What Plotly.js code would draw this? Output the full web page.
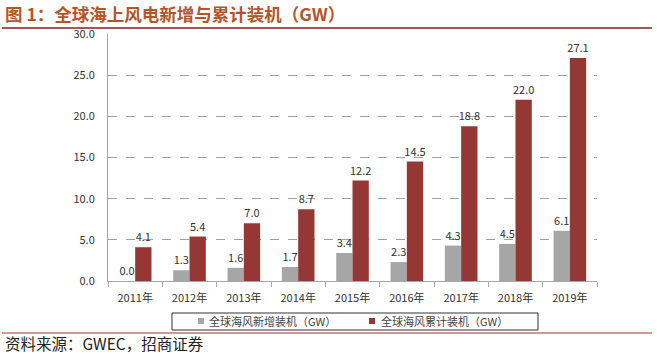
<!DOCTYPE html>
<html>
<head>
<meta charset="utf-8">
<script src="https://cdn.plot.ly/plotly-3.0.1.min.js"></script>
<style>
html,body{margin:0;padding:0;background:#fff;}
#chart{width:657px;height:354px;}
</style>
</head>
<body>
<div id="chart"></div>
<script>
const years = ["2011年","2012年","2013年","2014年","2015年","2016年","2017年","2018年","2019年"];
const newInstalled = [0.0, 1.3, 1.6, 1.7, 3.4, 2.3, 4.3, 4.5, 6.1];
const cumulative = [4.1, 5.4, 7.0, 8.7, 12.2, 14.5, 18.8, 22.0, 27.1];
const seriesNames = ["全球海风新增装机（GW）", "全球海风累计装机（GW）"];
const seriesColors = ["#A6A6A6", "#953735"];
const titleText = "图 1：全球海上风电新增与累计装机（GW）";
const sourceText = "资料来源：GWEC，招商证券";

const FONT = "Noto Sans CJK SC, Noto Sans, sans-serif";
const W = 657, H = 354, L = 108, R = 597, T = 34, B = 281;
const px = x => (x - L) / (R - L);
const py = y => (B - y) / (B - T);

const common = {
  type: "bar",
  x: years,
  texttemplate: "%{y:.1f}",
  textposition: "outside",
  constraintext: "none",
  textfont: {family: FONT, size: 11, color: "#333"},
  cliponaxis: false,
  hoverinfo: "skip",
  showlegend: false
};

const data = [
  Object.assign({}, common, {name: seriesNames[0], y: newInstalled, marker: {color: seriesColors[0]}}),
  Object.assign({}, common, {name: seriesNames[1], y: cumulative, marker: {color: seriesColors[1]}})
];

// manual legend (compact box as in reference)
const legendItems = [
  {sx: 198, tx: 207},
  {sx: 369, tx: 379}
];
const legendShapes = [
  {type: "rect", xref: "paper", yref: "paper", x0: px(172), x1: px(538), y0: py(313), y1: py(330),
   line: {color: "#333", width: 1}, fillcolor: "rgba(255,255,255,0)"}
];
const legendAnns = [];
legendItems.forEach((it, i) => {
  legendShapes.push({type: "rect", xref: "paper", yref: "paper",
    x0: px(it.sx), x1: px(it.sx + 6), y0: py(318), y1: py(324),
    line: {width: 0}, fillcolor: seriesColors[i]});
  legendAnns.push({text: seriesNames[i], xref: "paper", yref: "paper",
    x: px(it.tx), y: py(321), xanchor: "left", yanchor: "middle", showarrow: false,
    font: {family: FONT, size: 11, color: "#444"}});
});

const layout = {
  width: W, height: H,
  margin: {l: L, r: W - R, t: T, b: H - B, pad: 0},
  paper_bgcolor: "#fff", plot_bgcolor: "#fff",
  font: {family: FONT, size: 11, color: "#333"},
  barmode: "group",
  bargap: 0.4,
  bargroupgap: 0,
  showlegend: false,
  xaxis: {
    type: "category",
    showline: true, linecolor: "#A6A6A6", linewidth: 1,
    ticks: "outside", tickson: "boundaries", ticklen: 5, tickcolor: "#A6A6A6",
    ticklabelstandoff: 7,
    tickfont: {family: FONT, size: 11, color: "#333"},
    showgrid: false, fixedrange: true
  },
  yaxis: {
    range: [0, 30], dtick: 5, tickformat: ".1f",
    showline: true, linecolor: "#A6A6A6", linewidth: 1,
    ticks: "", ticklabelstandoff: 10,
    showgrid: true, gridcolor: "#A0A0A0", griddash: "dash", gridwidth: 1,
    zeroline: false,
    tickfont: {family: FONT, size: 11, color: "#333"},
    fixedrange: true
  },
  annotations: [
    {text: "<b>" + titleText + "</b>", xref: "paper", yref: "paper",
     x: px(3), y: py(14), xanchor: "left", yanchor: "middle", showarrow: false,
     font: {family: FONT, size: 17.5, color: "#B4552C"}},
    {text: sourceText, xref: "paper", yref: "paper",
     x: px(3), y: py(343), xanchor: "left", yanchor: "middle", showarrow: false,
     font: {family: FONT, size: 15.5, color: "#222"}}
  ].concat(legendAnns),
  shapes: [
    {type: "line", xref: "paper", yref: "paper", x0: px(2), x1: px(652), y0: py(28), y1: py(28),
     line: {color: "#7F1F1F", width: 1.5}},
    {type: "line", xref: "paper", yref: "paper", x0: px(2), x1: px(652), y0: py(333), y1: py(333),
     line: {color: "#A0302E", width: 1}}
  ].concat(legendShapes)
};

Plotly.newPlot("chart", data, layout, {displayModeBar: false, staticPlot: true});
</script>
</body>
</html>
